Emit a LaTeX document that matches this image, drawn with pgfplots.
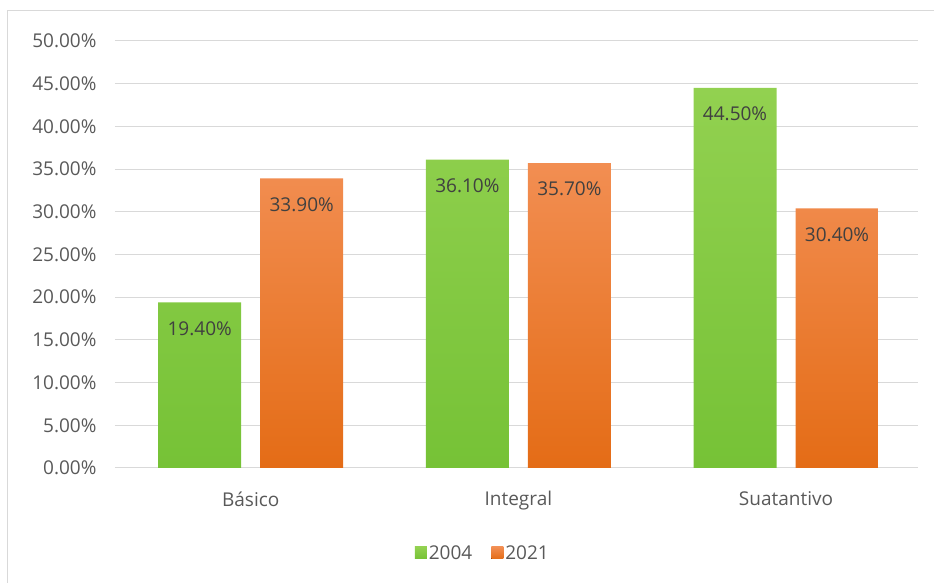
\documentclass[border=0pt]{standalone}
\usepackage{fontspec}
\setmainfont{Open Sans}
\usepackage{pgfplots}
\pgfplotsset{compat=1.18}
\definecolor{gridgray}{HTML}{D9D9D9}
\definecolor{txtgray}{HTML}{595959}
\definecolor{lbl}{HTML}{404040}
\definecolor{gtop}{HTML}{92D150}
\definecolor{gbot}{HTML}{76C236}
\definecolor{otop}{HTML}{F28E52}
\definecolor{obot}{HTML}{E46C16}
\begin{document}
\begin{tikzpicture}
\path[use as bounding box] (-115pt,-115pt) rectangle (819pt,468pt);
\draw[gridgray, line width=1pt] (-107pt,-130pt) -- (-107pt,457pt) -- (840pt,457pt);
\begin{axis}[
  at={(0pt,0pt)}, anchor=south west,
  scale only axis, width=803pt, height=427pt,
  ymin=0, ymax=50, xmin=-0.507, xmax=2.493,
  ytick={0,5,...,50},
  xtick={0,1,2},
  xticklabels={Básico,Integral,Suatantivo},
  ybar=19pt, bar width=83pt,
  axis x line=bottom, axis y line=left,
  x axis line style={draw=gridgray, line width=1pt, -},
  y axis line style={draw=none},
  major tick length=0pt,
  ymajorgrids, grid style={gridgray, line width=1pt},
  font=\fontsize{19pt}{22pt}\selectfont,
  tick label style={color=txtgray, font=\fontsize{19pt}{22pt}\selectfont},
  /pgf/number format/assume math mode=true,
  yticklabel={\pgfmathprintnumber[fixed,fixed zerofill,precision=2]{\tick}\%},
  yticklabel style={xshift=-15pt},
  xticklabel style={yshift=-20pt},
  nodes near coords={\pgfmathprintnumber[fixed,fixed zerofill,precision=2]{\pgfplotspointmeta}\%},
  nodes near coords style={anchor=center, yshift=-26pt, color=lbl, font=\fontsize{19pt}{22pt}\selectfont},
  legend style={at={(0.458,-0.199)}, anchor=center, legend columns=2, draw=none, fill=none,
    font=\fontsize{19pt}{22pt}\selectfont, text=txtgray,
    /tikz/every even column/.append style={column sep=17pt}},
  legend image code/.code={\fill[#1] (0pt,-6pt) rectangle (12pt,6pt);},
  clip=false,
]
\addplot[draw=none, top color=gtop, bottom color=gbot] coordinates {(0,19.4) (1,36.1) (2,44.5)};
\addplot[draw=none, top color=otop, bottom color=obot] coordinates {(0,33.9) (1,35.7) (2,30.4)};
\legend{2004,2021}
\end{axis}
\end{tikzpicture}
\end{document}
